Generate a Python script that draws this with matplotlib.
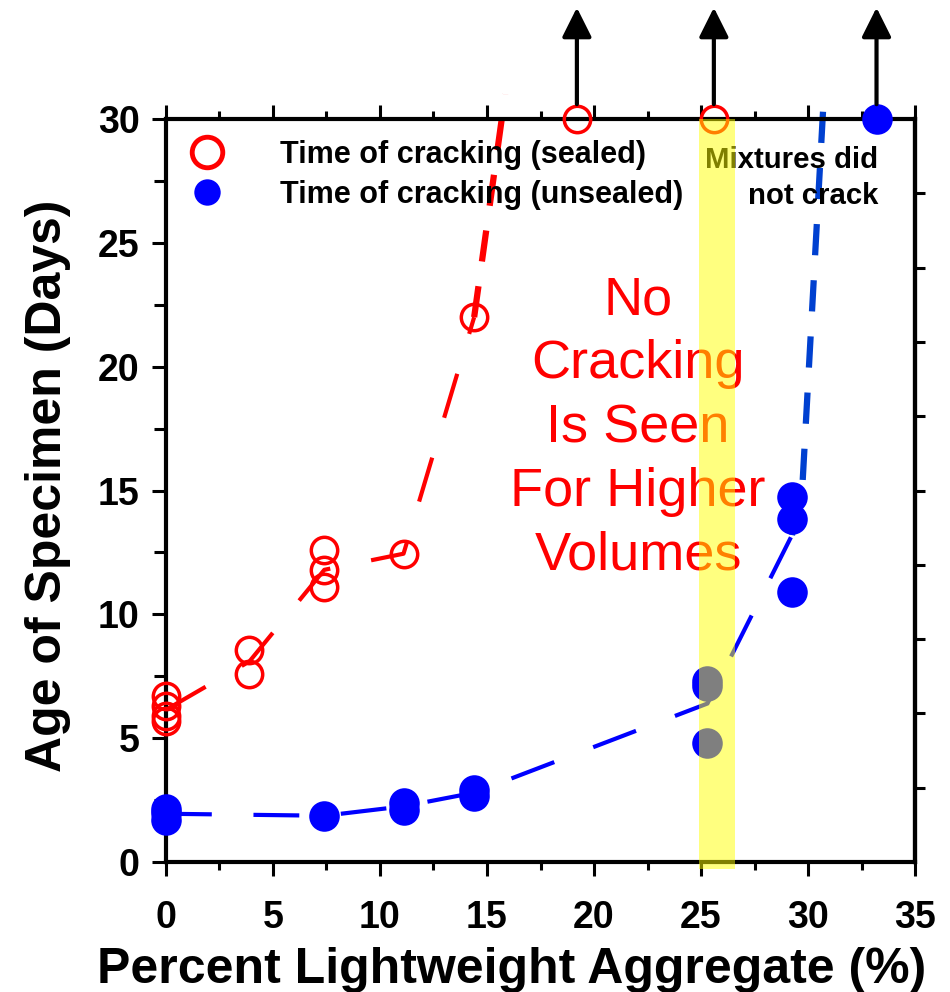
import matplotlib
matplotlib.use("Agg")
import matplotlib.pyplot as plt
from matplotlib.lines import Line2D
from matplotlib.ticker import MultipleLocator

plt.rcParams['font.family'] = ['Liberation Sans', 'DejaVu Sans']

# sealed specimens (open red circles)
sealed_x = [0, 0, 0, 0, 3.9, 3.9, 7.4, 7.4, 7.4, 11.1, 14.4, 19.2, 25.6]
sealed_y = [6.7, 6.3, 5.9, 5.7, 8.55, 7.6, 12.6, 11.8, 11.1, 12.45, 22.0, 30, 30]

# unsealed specimens (filled blue circles)
unsealed_x = [0, 0, 0, 7.4, 11.1, 11.1, 14.4, 14.4, 25.3, 25.3, 25.3, 29.25, 29.25, 29.25, 33.2]
unsealed_y = [2.15, 2.0, 1.7, 1.87, 2.4, 2.1, 2.9, 2.65, 7.3, 7.1, 4.8, 14.75, 13.85, 10.9, 30]

# dashed trend lines
sealed_fit_x = [0, 3.9, 7.4, 11.1, 14.4]
sealed_fit_y = [6.15, 8.1, 11.8, 12.45, 22.0]
sealed_up_x = [14.4, 15.85]
sealed_up_y = [22.0, 31.0]

unsealed_fit_x = [0, 7.4, 11.1, 14.4, 25.3, 29.25]
unsealed_fit_y = [1.95, 1.87, 2.25, 2.8, 6.4, 13.2]
unsealed_up_x = [29.25, 29.75, 30.7]
unsealed_up_y = [13.2, 15.4, 30.3]

# mixtures that never cracked (arrows up from 30 days)
no_crack_x = [19.2, 25.6, 33.2]

RED = '#ff0000'
BLUE = '#0000ff'

fig = plt.figure(figsize=(9.5, 9.92), dpi=100)
ax = fig.add_axes([0.1747, 0.131, 0.7885, 0.749])

# trend lines
ax.plot(sealed_fit_x, sealed_fit_y, color=RED, lw=3, dashes=(11, 10), zorder=2)
ax.plot(sealed_up_x, sealed_up_y, color=RED, lw=4.5, dashes=(5, 4), zorder=2, clip_on=False)
ax.plot(unsealed_fit_x, unsealed_fit_y, color=BLUE, lw=3, dashes=(11, 10), zorder=2)
ax.plot(unsealed_up_x, unsealed_up_y, color='#0040d0', lw=4.5, dashes=(5, 4), zorder=2, clip_on=False)

# data
ax.plot(sealed_x, sealed_y, 'o', ms=19, mfc='none', mec=RED, mew=2.5, zorder=3, clip_on=False)
ax.plot(unsealed_x, unsealed_y, 'o', ms=22, mfc=BLUE, mec=BLUE, mew=0, zorder=3, clip_on=False)

# arrows for "did not crack"
for x in no_crack_x:
    ax.annotate('', xy=(x, 34.5), xytext=(x, 30.6),
                arrowprops=dict(arrowstyle='-|>,head_length=0.9,head_width=0.45',
                                lw=3, color='black', mutation_scale=20,
                                shrinkA=0, shrinkB=0),
                annotation_clip=False)

# yellow highlight band
ax.axvspan(24.9, 26.6, ymin=-0.01, ymax=1.0, color='yellow', alpha=0.5,
           lw=0, zorder=6, clip_on=False)

# legend
handles = [
    Line2D([], [], ls='none', marker='o', ms=22, mfc='none', mec=RED, mew=3.5),
    Line2D([], [], ls='none', marker='o', ms=19, mfc=BLUE, mec=BLUE, mew=0),
]
labels = ['Time of cracking (sealed)', 'Time of cracking (unsealed)']
leg = ax.legend(handles, labels, loc='upper left', bbox_to_anchor=(0.0266, 0.972),
                frameon=False, prop={'weight': 'bold', 'size': 22},
                handlelength=1.36, handletextpad=1.73, labelspacing=0.33,
                borderpad=0, borderaxespad=0, numpoints=1)
leg.set_zorder(4)

ax.text(33.27, 27.62, 'Mixtures did\nnot crack', ha='right', va='center',
        multialignment='right', fontsize=21.2, fontweight='bold',
        linespacing=1.34, zorder=4)
ax.text(22.06, 17.52, 'No\nCracking\nIs Seen\nFor Higher\nVolumes', ha='center',
        va='center', fontsize=39, color=RED, linespacing=1.35, zorder=4)

# axes styling
ax.set_xlim(0, 35)
ax.set_ylim(0, 30)
ax.xaxis.set_major_locator(MultipleLocator(5))
ax.xaxis.set_minor_locator(MultipleLocator(2.5))
ax.yaxis.set_major_locator(MultipleLocator(5))
ax.yaxis.set_minor_locator(MultipleLocator(2.5))
for s in ax.spines.values():
    s.set_linewidth(3)
ax.tick_params(which='both', direction='out', top=True, right=False, width=2.2)
ax.tick_params(which='major', length=10, labelsize=27)
ax.tick_params(axis='x', which='major', pad=17.5)
ax.tick_params(axis='y', which='major', pad=9)
ax.tick_params(which='minor', length=6)
ax.tick_params(axis='y', which='minor', length=9)
for lab in ax.get_xticklabels() + ax.get_yticklabels():
    lab.set_fontweight('bold')

sec = ax.secondary_yaxis('right')
sec.set_yticks(range(3, 30, 3))
sec.set_yticklabels([])
sec.tick_params(direction='out', length=7, width=2.2)
sec.spines['right'].set_linewidth(3)

ax.set_xlabel('Percent Lightweight Aggregate (%)', fontsize=36, fontweight='bold')
ax.set_ylabel('Age of Specimen (Days)', fontsize=36, fontweight='bold')
ax.xaxis.set_label_coords(0.462, -0.114)
ax.yaxis.set_label_coords(-0.127, 0.507)

fig.savefig('out.png', dpi=100)
